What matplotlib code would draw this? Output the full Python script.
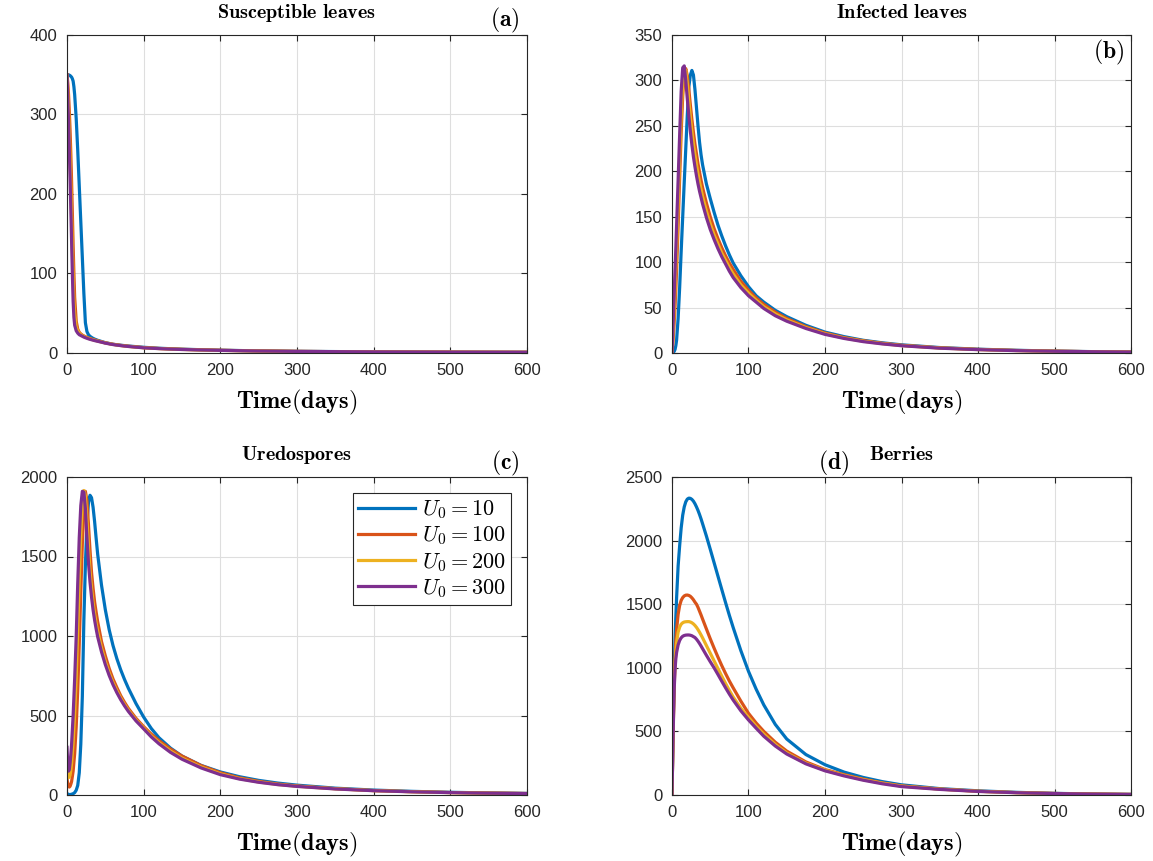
import matplotlib
matplotlib.use("Agg")
import matplotlib.pyplot as plt

plt.rcParams['font.family'] = ['Liberation Sans', 'DejaVu Sans']
plt.rcParams['mathtext.fontset'] = 'cm'

W, H = 1153, 861

# MATLAB default line colours
colors = ['#0072BD', '#D95319', '#EDB120', '#7E2F8E']
u0_values = [10, 100, 200, 300]

# ---- (a) susceptible leaves
t_a = [0, 1, 2, 3, 4, 5, 6, 7, 8, 9, 10, 12, 14, 16, 18, 20, 22, 24, 26, 28, 30,
       33, 36, 40, 45, 50, 60, 70, 80, 100, 120, 150, 200, 250, 300, 400, 500, 600]
S_10 = [350, 350, 350, 349.5, 349, 348, 347, 345, 342, 335, 325, 295, 255, 210, 165, 120, 75, 38, 27, 23, 21,
        19, 17.5, 16, 14.5, 13, 11, 9.8, 8.8, 7.2, 6, 4.8, 3.5, 2.7, 2.1, 1.5, 1.1, 0.9]
S_100 = [350, 340, 325, 305, 280, 250, 215, 175, 135, 100, 70, 40, 30, 26, 24, 22.5, 21.5, 20.5, 19.7, 19, 18.3,
         17.3, 16.5, 15.3, 14, 12.8, 11, 9.6, 8.5, 6.8, 5.7, 4.6, 3.4, 2.6, 2, 1.4, 1.1, 0.9]
S_200 = [350, 330, 305, 275, 245, 210, 170, 130, 95, 65, 50, 33, 28, 25, 23, 21.8, 20.8, 19.9, 19.1, 18.4, 17.7,
         16.8, 16, 15, 13.8, 12.6, 10.8, 9.4, 8.3, 6.6, 5.6, 4.5, 3.3, 2.6, 2, 1.4, 1.1, 0.9]
S_300 = [350, 320, 290, 255, 220, 180, 140, 100, 65, 45, 35, 28, 25, 23, 22, 21, 20, 19.2, 18.5, 17.8, 17.2,
         16.4, 15.6, 14.7, 13.6, 12.4, 10.6, 9.3, 8.2, 6.5, 5.5, 4.4, 3.3, 2.5, 2, 1.4, 1.1, 0.9]

# common time samples for (b), (c), (d)
t_s = [0, 1, 2, 3, 4, 5, 6, 8, 10, 12, 14, 16, 18, 20, 22, 24, 26, 28, 30, 32, 34, 36, 38, 40,
       45, 50, 55, 60, 65, 70, 75, 80, 90, 100, 110, 120, 135, 150, 175, 200, 225, 250, 275, 300,
       350, 400, 450, 500, 550, 600]

# ---- (b) infected leaves
I_10 = [0, 0.5, 1, 2, 4, 8, 14, 38, 72, 112, 150, 188, 225, 262, 293, 306, 311, 306, 290, 270, 250, 232, 218, 207,
        186, 170, 155, 141, 129, 118, 108, 99, 85, 73, 63, 56, 47, 40, 30.5, 23, 18, 14, 11.2, 9,
        6, 4.2, 3, 2.1, 1.5, 1.1]
I_100 = [0, 10, 22, 36, 52, 71, 92, 140, 193, 243, 283, 306, 313, 305, 290, 273, 257, 243, 230, 219, 208, 199, 190, 182,
         165, 150, 137, 126, 116, 107, 99, 92, 79, 69, 60.5, 53.5, 45, 38, 29, 22, 17, 13.5, 10.7, 8.5,
         5.7, 4, 2.8, 2, 1.45, 1.05]
I_200 = [0, 15, 32, 51, 72, 94, 116, 165, 217, 263, 297, 313, 311, 297, 278, 260, 244, 230, 218, 207, 197, 188, 180, 172,
         156, 142, 130, 120, 110, 102, 94, 87, 75, 66, 58, 51, 43, 36.5, 28, 21.2, 16.5, 13, 10.3, 8.2,
         5.5, 3.8, 2.7, 1.95, 1.4, 1]
I_300 = [0, 22, 45, 68, 92, 115, 140, 190, 240, 288, 314, 316, 300, 280, 261, 244, 229, 216, 205, 195, 186, 178, 171, 164,
         149, 136, 125, 115, 106, 98, 90, 83, 72, 63, 56, 49, 41, 35, 27, 20.5, 16, 12.5, 10, 8,
         5.3, 3.7, 2.6, 1.9, 1.4, 1]

# ---- (c) uredospores
U_10 = [10, 6, 4, 3, 3, 3.5, 5, 8, 15, 30, 60, 140, 320, 620, 1100, 1450, 1700, 1840, 1885, 1870, 1810, 1720, 1615, 1515,
        1320, 1165, 1040, 940, 858, 788, 727, 672, 575, 490, 418, 360, 295, 245, 186, 145, 115, 92, 75, 62,
        43, 31, 23, 17, 13, 10]
U_100 = [100, 70, 55, 50, 55, 68, 85, 150, 260, 430, 660, 950, 1280, 1580, 1800, 1910, 1850, 1700, 1540, 1400, 1300, 1215, 1150, 1090,
         965, 875, 796, 730, 676, 625, 583, 545, 482, 430, 383, 342, 289, 245, 185, 140, 108, 86, 69, 57,
         40, 28, 21, 15.5, 12, 9.3]
U_200 = [200, 140, 110, 112, 125, 155, 200, 330, 510, 740, 1040, 1350, 1640, 1840, 1915, 1880, 1730, 1560, 1410, 1300, 1210, 1140, 1080, 1030,
         925, 840, 768, 708, 656, 610, 570, 534, 472, 422, 372, 330, 276, 232, 176, 133, 103, 82, 66, 55,
         39, 27.5, 20.5, 15.2, 11.7, 9.1]
U_300 = [300, 190, 150, 160, 200, 255, 320, 500, 730, 994, 1330, 1620, 1820, 1910, 1905, 1800, 1620, 1460, 1340, 1245, 1165, 1100, 1045, 995,
         900, 820, 752, 694, 644, 600, 561, 526, 466, 416, 365, 322, 268, 225, 170, 128, 100, 80, 65, 54,
         38, 27, 20, 15, 11.5, 9]

# ---- (d) berries
B_10 = [0, 360, 700, 1000, 1230, 1400, 1550, 1800, 1960, 2100, 2200, 2265, 2305, 2326, 2334, 2332, 2324, 2310, 2290, 2265, 2237, 2205, 2170, 2132,
        2035, 1932, 1827, 1722, 1617, 1513, 1412, 1316, 1135, 972, 832, 708, 555, 440, 318, 238, 180, 138, 105, 80,
        50, 33, 21, 13, 8, 5]
B_100 = [0, 340, 650, 900, 1080, 1210, 1300, 1420, 1490, 1530, 1552, 1565, 1571, 1572, 1569, 1562, 1550, 1535, 1516, 1500, 1475, 1445, 1415, 1383,
         1305, 1228, 1155, 1085, 1018, 955, 896, 842, 738, 642, 566, 500, 415, 345, 260, 200, 160, 125, 95, 72,
         47, 30, 19, 12, 7.5, 4.5]
B_200 = [0, 335, 635, 870, 1030, 1130, 1200, 1280, 1320, 1343, 1354, 1360, 1362, 1363, 1363, 1360, 1354, 1345, 1333, 1318, 1300, 1280, 1258, 1235,
         1175, 1115, 1055, 995, 935, 877, 822, 770, 682, 610, 540, 478, 397, 330, 250, 195, 155, 121, 93, 70,
         46, 29, 18.5, 11.8, 7.3, 4.4]
B_300 = [0, 330, 620, 850, 990, 1070, 1120, 1180, 1215, 1236, 1248, 1254, 1257, 1258, 1258, 1256, 1252, 1245, 1238, 1225, 1209, 1191, 1171, 1150,
         1098, 1048, 1000, 948, 895, 843, 793, 746, 662, 590, 525, 462, 385, 322, 245, 190, 150, 116, 88, 66,
         44, 28, 18, 11.5, 7.2, 4.3]

panels = [
    (t_a, [S_10, S_100, S_200, S_300], r'$\mathbf{Susceptible\ leaves}$', [0, 100, 200, 300, 400], 400, (67, 527, 35, 353)),
    (t_s, [I_10, I_100, I_200, I_300], r'$\mathbf{Infected\ leaves}$', list(range(0, 351, 50)), 350, (672, 1131, 35, 353)),
    (t_s, [U_10, U_100, U_200, U_300], r'$\mathbf{Uredospores}$', list(range(0, 2001, 500)), 2000, (67, 527, 477, 795)),
    (t_s, [B_10, B_100, B_200, B_300], r'$\mathbf{Berries}$', list(range(0, 2501, 500)), 2500, (672, 1131, 477, 795)),
]

fig = plt.figure(figsize=(W / 100, H / 100), dpi=100)
axs = []
for t, series, title, yt, ytop, (l, r, top, bot) in panels:
    ax = fig.add_axes([l / W, 1 - bot / H, (r - l) / W, (bot - top) / H])
    for vals, c, u in zip(series, colors, u0_values):
        ax.plot(t, vals, color=c, lw=2.3, label=r'$U_0 = %d$' % u)
    ax.set_xlim(0, 600)
    ax.set_ylim(0, ytop)
    ax.set_xticks(range(0, 601, 100))
    ax.set_yticks(yt)
    ax.grid(True, color='#dedede', lw=0.8)
    ax.set_axisbelow(True)
    ax.tick_params(direction='in', top=True, right=True, length=4, width=0.8,
                   labelsize=12, colors='#262626', pad=7)
    for s in ax.spines.values():
        s.set_color('#262626')
        s.set_linewidth(0.8)
    ax.set_title(title, fontsize=14.5, pad=12)
    ax.set_xlabel(r'$\mathbf{Time(days)}$', fontsize=17.5, labelpad=7)
    axs.append(ax)

# legend in (c)
l, r, top, bot = panels[2][5]
axs[2].legend(loc='upper right', bbox_to_anchor=((511 - l) / (r - l), 1 - (493 - top) / (bot - top)),
              borderaxespad=0, fontsize=16, handlelength=2.55, handletextpad=0.3,
              labelspacing=0.15, borderpad=0.25, fancybox=False, framealpha=1,
              edgecolor='#262626').get_frame().set_linewidth(0.8)

# panel letters
for txt, x, y in [('(a)', 505, 20), ('(b)', 1109, 52), ('(c)', 505, 463), ('(d)', 834, 463)]:
    fig.text(x / W, 1 - y / H, r'$\mathbf{%s}$' % txt, fontsize=17, ha='center', va='center')

fig.savefig('out.png', dpi=100)
